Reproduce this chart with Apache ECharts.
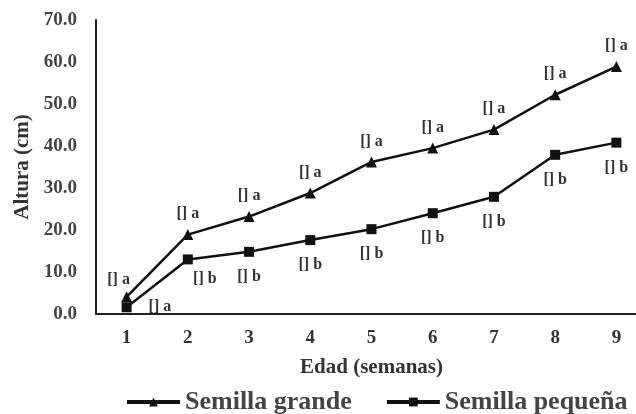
<!DOCTYPE html>
<html>
<head>
<meta charset="utf-8">
<script src="https://cdn.jsdelivr.net/npm/echarts@6/dist/echarts.min.js"></script>
<style>
html,body{margin:0;padding:0;background:#fff;}
#box{width:636px;height:414px;}
</style>
</head>
<body>
<div id="box"></div>
<script>
var semanas = ['1','2','3','4','5','6','7','8','9'];
var grande = [4.1, 18.9, 23.2, 28.8, 36.2, 39.5, 43.9, 52.2, 58.9];
var pequena = [1.6, 13.0, 14.8, 17.6, 20.2, 24.0, 27.9, 37.9, 40.8];
var letrasGrande = ['[] a','[] a','[] a','[] a','[] a','[] a','[] a','[] a','[] a'];
var letrasPequena = ['[] a','[] b','[] b','[] b','[] b','[] b','[] b','[] b','[] b'];

var fuente = 'Liberation Serif';

var myChart = echarts.init(document.getElementById('box'));

// etiquetas de cada punto
var dataGrande = grande.map(function(v, i){
    var it = {value: v};
    if (i == 0) {
        it.label = {offset: [-8, 4]};
    }
    return it;
});
var dataPequena = pequena.map(function(v, i){
    var it = {value: v};
    if (i == 0) {
        it.label = {position: 'right', distance: 17};
    } else if (i == 1) {
        it.label = {offset: [17, -6]};
    }
    return it;
});

var option = {
    animation: false,
    textStyle: {fontFamily: fuente},
    grid: {left: 96, top: 20, bottom: 100, width: 551, outerBoundsMode: 'none'},
    legend: {
        left: 120,
        top: 384,
        width: 600,
        padding: 5,
        itemWidth: 53,
        itemHeight: 11,
        itemGap: 33,
        lineStyle: {width: 4},
        textStyle: {fontFamily: fuente, fontSize: 26, fontWeight: 'bold', color: '#444'},
        data: ['Semilla grande', 'Semilla pequeña']
    },
    xAxis: {
        type: 'category',
        data: semanas,
        boundaryGap: true,
        name: 'Edad (semanas)',
        nameLocation: 'middle',
        nameGap: 43,
        nameTextStyle: {fontFamily: fuente, fontSize: 21, fontWeight: 'bold', color: '#333'},
        axisLine: {lineStyle: {color: '#222', width: 2}},
        axisTick: {show: false},
        axisLabel: {fontFamily: fuente, fontSize: 19, fontWeight: 'bold', color: '#333', margin: 15}
    },
    yAxis: {
        type: 'value',
        min: 0,
        max: 70,
        interval: 10,
        name: 'Altura (cm)',
        nameLocation: 'middle',
        nameGap: 63,
        nameTextStyle: {fontFamily: fuente, fontSize: 21, fontWeight: 'bold', color: '#333'},
        axisLine: {show: true, lineStyle: {color: '#222', width: 2}},
        axisTick: {show: false},
        splitLine: {show: false},
        axisLabel: {
            fontFamily: fuente, fontSize: 19, fontWeight: 'bold', color: '#444', margin: 19,
            formatter: function(v){ return v.toFixed(1); }
        }
    },
    series: [
        {
            name: 'Semilla grande',
            type: 'line',
            data: dataGrande,
            symbol: 'triangle',
            symbolSize: 11,
            lineStyle: {color: '#111', width: 2.5},
            itemStyle: {color: '#111'},
            label: {
                show: true,
                position: 'top',
                distance: 7,
                fontFamily: fuente, fontSize: 16, fontWeight: 'bold', color: '#333',
                formatter: function(p){ return letrasGrande[p.dataIndex]; }
            }
        },
        {
            name: 'Semilla pequeña',
            type: 'line',
            data: dataPequena,
            symbol: 'rect',
            symbolSize: 10,
            lineStyle: {color: '#111', width: 2.5},
            itemStyle: {color: '#111'},
            label: {
                show: true,
                position: 'bottom',
                distance: 12,
                fontFamily: fuente, fontSize: 16, fontWeight: 'bold', color: '#333',
                formatter: function(p){ return letrasPequena[p.dataIndex]; }
            }
        }
    ]
};
myChart.setOption(option);
</script>
</body>
</html>
